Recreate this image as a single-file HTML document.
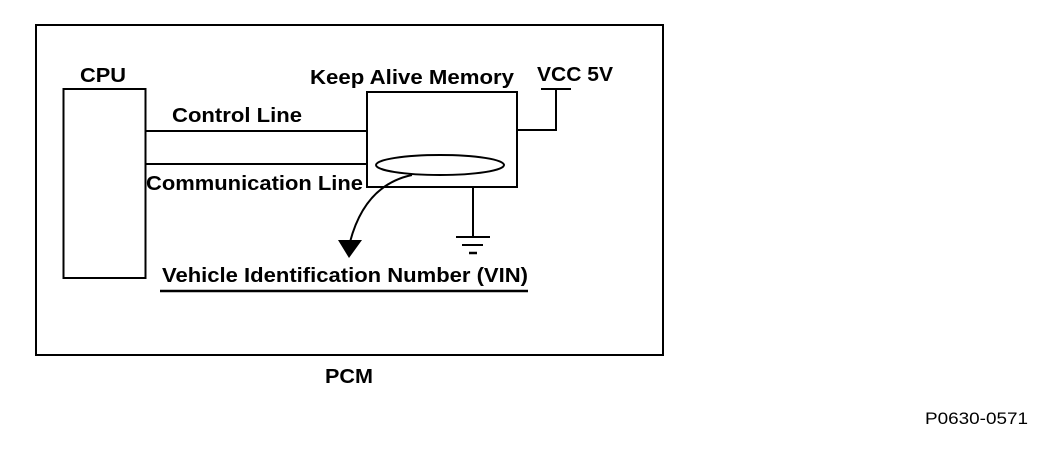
<!DOCTYPE html>
<html><head><style>
body{margin:0;background:#fff;}
svg text{font-family:"Liberation Sans",Arial,sans-serif;font-weight:bold;font-size:20px;fill:#000;}
</style></head><body>
<svg width="1056" height="444" viewBox="0 0 1056 444" xmlns="http://www.w3.org/2000/svg">
<rect x="36" y="25" width="627" height="330" fill="none" stroke="#000" stroke-width="2"/>
<rect x="63.5" y="89" width="82" height="189" fill="none" stroke="#000" stroke-width="2"/>
<text x="80" y="82" textLength="46" lengthAdjust="spacingAndGlyphs">CPU</text>
<line x1="146" y1="131" x2="367" y2="131" stroke="#000" stroke-width="2"/>
<line x1="146" y1="164" x2="367" y2="164" stroke="#000" stroke-width="2"/>
<text x="172" y="122" textLength="130" lengthAdjust="spacingAndGlyphs">Control Line</text>
<text x="146" y="190" textLength="217" lengthAdjust="spacingAndGlyphs">Communication Line</text>
<rect x="367" y="92" width="150" height="95" fill="none" stroke="#000" stroke-width="2"/>
<text x="310" y="84" textLength="204" lengthAdjust="spacingAndGlyphs">Keep Alive Memory</text>
<text x="537" y="81" textLength="76" lengthAdjust="spacingAndGlyphs">VCC 5V</text>
<polyline points="517,130 556,130 556,89" fill="none" stroke="#000" stroke-width="2"/>
<line x1="541" y1="89" x2="571" y2="89" stroke="#000" stroke-width="2"/>
<ellipse cx="440" cy="165" rx="64" ry="10" fill="none" stroke="#000" stroke-width="2"/>
<line x1="473" y1="187" x2="473" y2="237" stroke="#000" stroke-width="2"/>
<line x1="456" y1="237" x2="490" y2="237" stroke="#000" stroke-width="2"/>
<line x1="462" y1="245" x2="483" y2="245" stroke="#000" stroke-width="2"/>
<line x1="469" y1="253" x2="477" y2="253" stroke="#000" stroke-width="2.5"/>
<path d="M412,175 Q365,185 350,242" fill="none" stroke="#000" stroke-width="2"/>
<polygon points="338,240 362,240 349,258" fill="#000"/>
<text x="162" y="282" textLength="366" lengthAdjust="spacingAndGlyphs">Vehicle Identification Number (VIN)</text>
<line x1="160" y1="291" x2="528" y2="291" stroke="#000" stroke-width="2.5"/>
<text x="325" y="383" textLength="48" lengthAdjust="spacingAndGlyphs">PCM</text>
<text x="925" y="424" style="font-weight:normal;font-size:17px" textLength="103" lengthAdjust="spacingAndGlyphs">P0630-0571</text>
</svg>
</body></html>
